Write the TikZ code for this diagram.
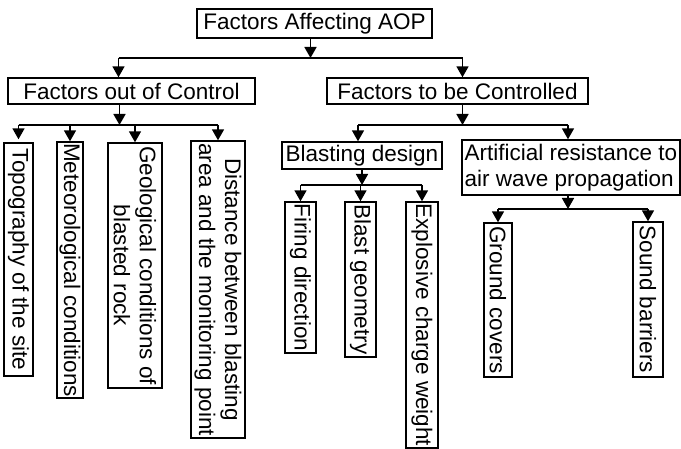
\documentclass[tikz,border=0pt]{standalone}
\usepackage{fontspec}
\setmainfont{Liberation Sans}
\usetikzlibrary{arrows.meta}

\begin{document}
\begin{tikzpicture}[x=1pt, y=1pt,
    box/.style={draw, line width=1.4pt, inner sep=0pt, align=center,
      font=\fontsize{22.5}{26}\selectfont},
    vbox/.style={box, rotate=-90},
    link/.style={line width=1.6pt},
    arr/.style={link, -{Triangle[width=12pt,length=11pt]}}]
    \useasboundingbox (0,0) rectangle (681,-449);

    % first two levels
    \node[box, minimum width=235pt, minimum height=29pt] (aop) at (314.5,-23.5) {Factors Affecting AOP};
    \node[box, minimum width=247pt, minimum height=26pt] (ooc) at (131.5,-91) {Factors out of Control};
    \node[box, minimum width=261pt, minimum height=26pt] (tbc) at (457.5,-91) {Factors to be Controlled};

    % factors out of control
    \node[vbox, minimum width=233pt, minimum height=29pt] (topo) at (18.5,-259.5) {Topography of the site};
    \node[vbox, minimum width=256pt, minimum height=26pt] (meteo) at (70,-270) {Meteorological conditions};
    \node[vbox, minimum width=245pt, minimum height=54pt] (geo) at (135,-265.5) {Geological conditions of\\blasted rock};
    \node[vbox, minimum width=297pt, minimum height=54pt] (dist) at (218,-289.5) {Distance between blasting\\area and the monitoring point};

    % factors to be controlled
    \node[box, minimum width=160pt, minimum height=27pt] (design) at (362,-155.5) {Blasting design};
    \node[box, minimum width=218pt, minimum height=55pt, align=left] (resist) at (571,-167.5) {Artificial resistance to\\air wave propagation};
    \node[vbox, minimum width=151pt, minimum height=31pt] (firing) at (300.5,-277.5) {Firing direction};
    \node[vbox, minimum width=155pt, minimum height=31pt] (geom) at (360.5,-279.5) {Blast geometry};
    \node[vbox, minimum width=246pt, minimum height=32pt] (charge) at (422,-325) {Explosive charge weight};
    \node[vbox, minimum width=154pt, minimum height=28pt] (ground) at (498,-300) {Ground covers};
    \node[vbox, minimum width=155pt, minimum height=30pt] (sound) at (648,-299.5) {Sound barriers};

    % bus levels
    \coordinate (bus1) at (0,-58);
    \coordinate (bus2) at (0,-125);
    \coordinate (bus3) at (0,-185);
    \coordinate (bus4) at (0,-209);
    \coordinate (ooc-in) at ([xshift=-13pt]ooc.north);
    \coordinate (ooc-out) at ([xshift=-12pt]ooc.south);
    \coordinate (tbc-in) at ([xshift=5pt]tbc.north);
    \coordinate (tbc-out) at ([xshift=5pt]tbc.south);
    \coordinate (topo-in) at ([yshift=3pt]topo.west);

    \draw[arr] ([xshift=-4pt]aop.south) -- ([xshift=-4pt]aop.south |- bus1);
    \draw[link] (ooc-in |- bus1) -- (tbc-in |- bus1);
    \draw[arr] (ooc-in |- bus1) -- (ooc-in);
    \draw[arr] (tbc-in |- bus1) -- (tbc-in);

    \draw[arr] (ooc-out) -- (ooc-out |- bus2);
    \draw[link] (topo-in |- bus2) -- (dist.west |- bus2);
    \foreach \n in {topo-in,meteo.west,geo.west,dist.west}
        \draw[arr] (\n |- bus2) -- (\n);

    \draw[arr] (tbc-out) -- (tbc-out |- bus2);
    \draw[link] ([xshift=-4pt]design.north |- bus2) -- ([xshift=-3pt]resist.north |- bus2);
    \draw[arr] ([xshift=-4pt]design.north |- bus2) -- ([xshift=-4pt]design.north);
    \draw[arr] ([xshift=-3pt]resist.north |- bus2) -- ([xshift=-3pt]resist.north);

    \draw[arr] (design.south) -- (design.south |- bus3);
    \draw[link] (firing.west |- bus3) -- (charge.west |- bus3);
    \foreach \n in {firing,geom,charge}
        \draw[arr] (\n.west |- bus3) -- (\n.west);

    \draw[arr] ([xshift=-3pt]resist.south) -- ([xshift=-3pt]resist.south |- bus4);
    \draw[link] (ground.west |- bus4) -- (sound.west |- bus4);
    \foreach \n in {ground,sound}
        \draw[arr] (\n.west |- bus4) -- (\n.west);
\end{tikzpicture}
\end{document}
